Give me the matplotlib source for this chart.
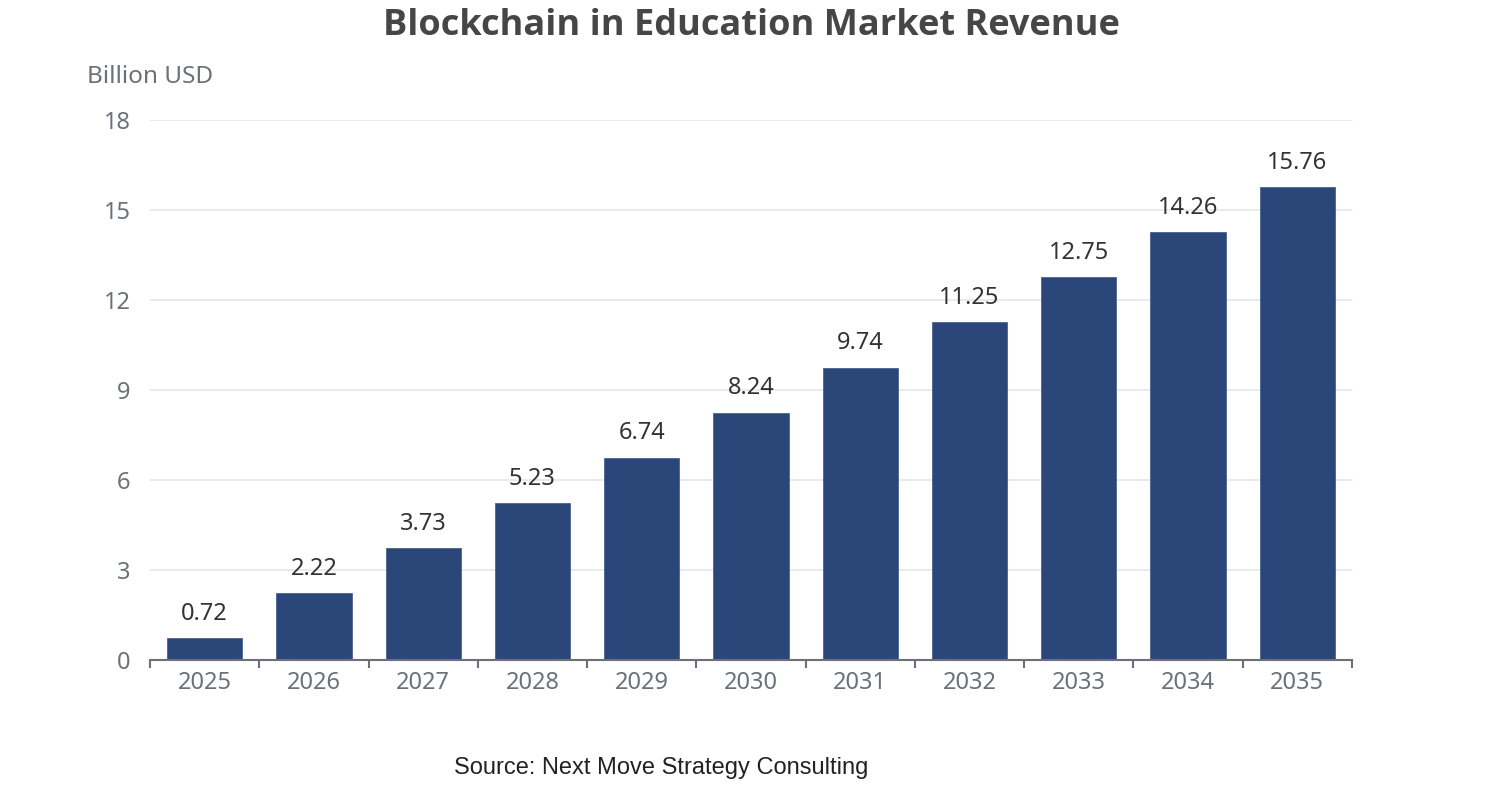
import matplotlib
matplotlib.use('Agg')
import matplotlib.pyplot as plt
import numpy as np

# data
years = ['2025', '2026', '2027', '2028', '2029', '2030', '2031', '2032', '2033', '2034', '2035']
revenue = [0.72, 2.22, 3.73, 5.23, 6.74, 8.24, 9.74, 11.25, 12.75, 14.26, 15.76]
y_ticks = [0, 3, 6, 9, 12, 15, 18]

plt.rcParams['font.family'] = ['Noto Sans', 'DejaVu Sans']

fig = plt.figure(figsize=(15.02, 8), dpi=100)
ax = fig.add_axes([0.0999, 0.175, 0.8002, 0.675])

x = np.arange(len(years))
ax.bar(x, revenue, width=0.69, color='#2b4679', edgecolor='#4a638f', linewidth=0.6, zorder=3)

for xi, v in zip(x, revenue):
    ax.annotate(f'{v:.2f}', (xi, v), xytext=(0, 9), textcoords='offset points',
                ha='center', va='bottom', fontsize=17, color='#333333')

ax.set_xlim(-0.5, len(years) - 0.5)
ax.set_ylim(0, 18)
ax.set_yticks(y_ticks)
ax.set_yticklabels([str(t) for t in y_ticks], fontsize=17, color='#6e7079')
ax.set_xticks(x)
ax.set_xticklabels(years, fontsize=17, color='#6e7079')
ax.tick_params(axis='y', length=0, pad=14)
ax.tick_params(axis='x', length=0, pad=8)
# ticks between categories
ax.set_xticks(np.arange(-0.5, len(years)), minor=True)
ax.tick_params(axis='x', which='minor', length=6, width=1.5, color='#6e7079')

ax.grid(axis='y', color='#e0e6f1', linewidth=1.2, zorder=0)
for s in ['top', 'right', 'left']:
    ax.spines[s].set_visible(False)
ax.spines['bottom'].set_color('#6e7079')
ax.spines['bottom'].set_linewidth(1.5)
ax.spines['bottom'].set_zorder(4)

fig.text(0.5, 0.968, 'Blockchain in Education Market Revenue', ha='center', va='center',
         fontsize=26, fontweight='bold', color='#464646', family=['Open Sans', 'DejaVu Sans'])
fig.text(0.058, 0.904, 'Billion USD', ha='left', va='center', fontsize=17.5, color='#6e7079')
fig.text(0.44, 0.04, 'Source: Next Move Strategy Consulting', ha='center', va='center',
         fontsize=17, color='#222222', family=['Liberation Sans', 'DejaVu Sans'])

fig.savefig('out.png', dpi=100)
